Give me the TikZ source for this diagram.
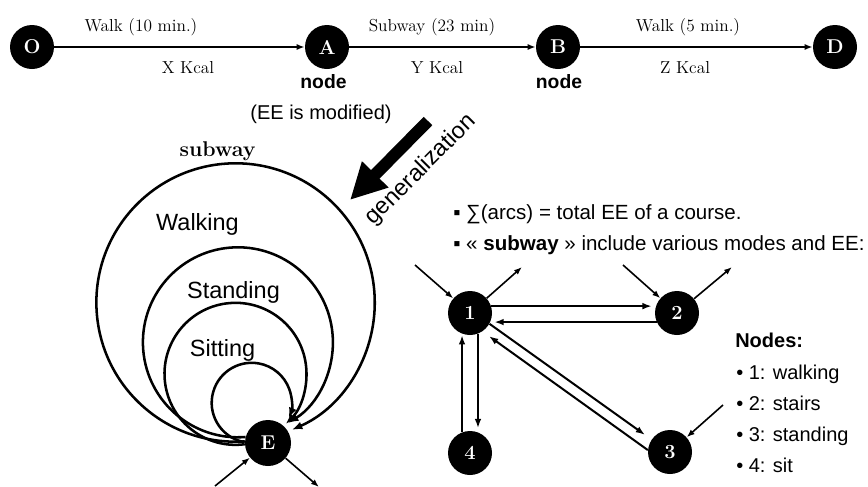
\documentclass[tikz,border=0pt]{standalone}
\usepackage{fontspec}
\setsansfont{Liberation Sans}
\usetikzlibrary{arrows.meta}
\begin{document}
\begin{tikzpicture}[x=0.75pt,y=-0.75pt,
  blk/.style={circle, fill=black, text=white, inner sep=0pt, minimum size=33pt, font=\bfseries\fontsize{15}{15}\selectfont},
  toparr/.style={line width=1.4pt, -{Latex[length=6pt,width=4.5pt]}},
  looparr/.style={line width=1.9pt, -{Latex[length=8pt,width=6pt]}},
  garr/.style={line width=1.5pt, -{Latex[length=7pt,width=5pt]}},
  sarr/.style={line width=1.2pt, -{Latex[length=6pt,width=4.5pt]}},
  serlab/.style={font=\fontsize{13}{15}\selectfont},
  sanslab/.style={font=\sffamily\fontsize{15}{18}\selectfont},
  ringlab/.style={font=\sffamily\fontsize{17.6}{20}\selectfont},
  boldlab/.style={font=\sffamily\bfseries\fontsize{14.5}{17}\selectfont},
  listlab/.style={font=\sffamily\fontsize{15.4}{18}\selectfont, anchor=base west, inner sep=0pt},
  nodelab/.style={font=\sffamily\fontsize{15}{18}\selectfont, anchor=base west, inner sep=0pt}
]
\clip (0,0) rectangle (868,486);
\useasboundingbox (0,0) rectangle (868,486);

% top row
\node[blk] (O) at (32,47) {O};
\node[blk] (A) at (327,47) {A};
\node[blk] (B) at (558,47) {B};
\node[blk] (D) at (835,47) {D};
\draw[toparr] (O) -- (A);
\draw[toparr] (A) -- (B);
\draw[toparr] (B) -- (D);
\node[serlab] (t1) at (141,27) {Walk (10 min.)};
\node[serlab] (t2) at (188,67.5) {X Kcal};
\node[serlab] (t3) at (432,27) {Subway (23 min)};
\node[serlab] (t4) at (437,67.5) {Y Kcal};
\node[serlab] (t5) at (688,27) {Walk (5 min.)};
\node[serlab] (t6) at (685,67.5) {Z Kcal};
\node[boldlab] (nA) at (323.5,81.5) {node};
\node[boldlab] (nB) at (559,81.5) {node};
\node[sanslab] (ee) at (321,114) {(EE is modified)};

% generalization arrow
\coordinate (g1) at (428,121);
\coordinate (g2) at (350,200);
\draw[line width=9pt, -{Triangle[length=27pt,width=26pt]}] (g1) -- (g2);
\node[ringlab, rotate=45, inner sep=0pt] (gen) at (421,170) {generalization};

% left loops
\node[blk, minimum size=34.5pt] (E) at (268,443) {E};
\draw[looparr] (E.176) arc[start angle=86.2, end angle=426.2, radius=139.2];
\draw[looparr] (E.165) arc[start angle=85.4, end angle=418.2, radius=95];
\draw[looparr] (E.183) arc[start angle=82.5, end angle=405, radius=71];
\draw[looparr] (E.178) arc[start angle=100, end angle=382.8, radius=40];
\node[font=\bfseries\fontsize{16}{18}\selectfont] (sub) at (217.5,151.5) {subway};
\node[ringlab] (wk) at (197.5,224) {Walking};
\node[ringlab] (st) at (233.5,292.5) {Standing};
\node[ringlab] (si) at (222.5,350) {Sitting};
\coordinate (aE) at (215,486);
\coordinate (bE) at (319,487);
\draw[sarr] (aE) -- (E);
\draw[sarr] (E) -- (bE);

% right graph
\node[blk] (n1) at (470,313) {1};
\node[blk] (n2) at (677,313) {2};
\node[blk] (n3) at (670,452) {3};
\node[blk] (n4) at (470,453) {4};
\draw[garr, shorten >=3pt] (n1.18) -- (n2.162);
\draw[garr, shorten >=3pt] (n2.204) -- (n1.336);
\draw[garr, shorten >=3pt] (n1.291) -- (n4.69);
\draw[garr, shorten >=1pt] (n4.111) -- (n1.249);
\draw[garr, shorten >=6pt] (n1.-29) -- (n3.146);
\draw[garr, shorten >=6pt] (n3.175) -- (n1.-56);
\coordinate (a1) at (415,265);
\coordinate (b1) at (522,267);
\coordinate (a2) at (623,265);
\coordinate (b2) at (732,267);
\coordinate (a3) at (723,405);
\draw[sarr] (a1) -- (n1);
\draw[sarr] (n1) -- (b1);
\draw[sarr] (a2) -- (n2);
\draw[sarr] (n2) -- (b2);
\draw[sarr] (a3) -- (n3);

% right texts
\node[listlab] (r1) at (453,219) {▪ ∑(arcs) = total EE of a course.};
\node[listlab] (r2) at (453,250.5) {▪ « \textbf{subway} » include various modes and EE:};
\node[nodelab, font=\sffamily\bfseries\fontsize{15}{18}\selectfont] (nd) at (735,347) {Nodes:};
\node[nodelab] (l1) at (736,379) {• 1: walking};
\node[nodelab] (l2) at (736,410) {• 2: stairs};
\node[nodelab] (l3) at (736,441) {• 3: standing};
\node[nodelab] (l4) at (736,472) {• 4: sit};
\end{tikzpicture}
\end{document}
